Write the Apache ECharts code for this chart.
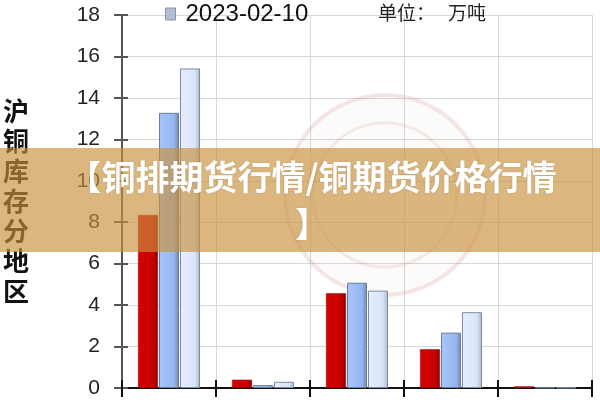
<!DOCTYPE html>
<html><head><meta charset="utf-8">
<script src="https://cdn.jsdelivr.net/npm/echarts@6/dist/echarts.min.js"></script>
<style>html,body{margin:0;padding:0;background:#fff}#c{width:600px;height:400px}</style>
</head><body><div id="c"></div>
<script>
// Data
const categories = ['上海', '广东', '江苏', '浙江', '其他'];
const seriesNames = ['系列1', '系列2', '2023-02-10'];
const valuesRed = [8.35, 0.4, 4.57, 1.87, 0.08];
const valuesBlue = [13.28, 0.14, 5.08, 2.67, 0.02];
const valuesLight = [15.42, 0.3, 4.7, 3.66, 0.02];
const yTicks = [0, 2, 4, 6, 8, 10, 12, 14, 16, 18];
const yAxisTitle = '沪铜库存分地区';
const unitText = ['单位：', '万吨'];
const bannerText = '【铜排期货行情/铜期货价格行情\n】';

const chart = echarts.init(document.getElementById('c'), null, {renderer: 'canvas'});
function grad(c1, c2, c3) {
  return new echarts.graphic.LinearGradient(0, 0, 1, 0, [
    {offset: 0, color: c1}, {offset: 0.75, color: c2}, {offset: 1, color: c3}
  ]);
}
const yMin = yTicks[0], yMax = yTicks[yTicks.length - 1], yInt = yTicks[1] - yTicks[0];
const option = {
  animation: false,
  textStyle: {fontFamily: 'Liberation Sans, Arial, sans-serif'},
  grid: {left: 118, right: 8, top: 15, bottom: 12, containLabel: false},
  legend: {
    data: [{name: seriesNames[2], itemStyle: {color: '#b4bdd2', borderColor: '#8c96ac', borderWidth: 1}}],
    left: 160, top: -3, icon: 'rect', itemWidth: 10, itemHeight: 12,
    textStyle: {fontSize: 24, color: '#111', fontFamily: 'Liberation Sans, Arial, sans-serif', padding: [0, 0, 0, 5]}
  },
  xAxis: [{
    type: 'category', data: categories, boundaryGap: true,
    axisLine: {show: true, lineStyle: {color: '#111', width: 2}},
    axisTick: {show: true, inside: false, length: 9, lineStyle: {color: '#111', width: 2}},
    axisLabel: {show: false},
    splitLine: {show: true, lineStyle: {color: '#d8d8d8', width: 1}}
  }, {
    type: 'category', data: categories, boundaryGap: true, position: 'bottom',
    axisLine: {show: false},
    axisTick: {show: true, inside: true, length: 8, lineStyle: {color: '#111', width: 2}},
    axisLabel: {show: false}, splitLine: {show: false}
  }],
  yAxis: [{
    type: 'value', min: yMin, max: yMax, interval: yInt,
    name: yAxisTitle.split('').join('\n'), nameLocation: 'middle', nameRotate: 0, nameGap: 93,
    nameTextStyle: {fontSize: 26, fontWeight: 'bold', color: '#111', lineHeight: 30, fontFamily: 'Noto Sans CJK SC'},
    axisLine: {show: true, lineStyle: {color: '#555', width: 2}},
    axisTick: {show: true, inside: false, length: 8, lineStyle: {color: '#555', width: 2}},
    axisLabel: {fontSize: 21, color: '#222', margin: 22, fontFamily: 'Liberation Sans, Arial, sans-serif'},
    splitLine: {show: true, lineStyle: {color: '#d8d8d8', width: 1}}
  }, {
    type: 'value', min: yMin, max: yMax, interval: yInt, position: 'left',
    axisLine: {show: false},
    axisTick: {show: true, inside: true, length: 6, lineStyle: {color: '#555', width: 2}},
    axisLabel: {show: false}, splitLine: {show: false}
  }],
  series: [
    {name: seriesNames[0], type: 'bar', data: valuesRed, barWidth: 20, barGap: '5%',
     itemStyle: {color: grad('#d40000', '#c80000', '#8a0000'), borderColor: '#9a1010', borderWidth: 0.6}},
    {name: seriesNames[1], type: 'bar', data: valuesBlue, barWidth: 20, barGap: '5%',
     itemStyle: {color: grad('#a9c6fa', '#94b6f2', '#6f86b0'), borderColor: '#6d7d98', borderWidth: 1}},
    {name: seriesNames[2], type: 'bar', data: valuesLight, barWidth: 20, barGap: '5%',
     itemStyle: {color: grad('#e6eefd', '#d8e4fa', '#a8b4c8'), borderColor: '#7e8aa0', borderWidth: 1}}
  ],
  graphic: [
    {type: 'circle', shape: {cx: 385, cy: 195, r: 100}, silent: true, z: 1,
     style: {fill: 'rgba(225,170,170,0.06)', stroke: 'rgba(200,120,120,0.18)', lineWidth: 4}},
    {type: 'circle', shape: {cx: 385, cy: 195, r: 72}, silent: true, z: 1,
     style: {fill: 'none', stroke: 'rgba(200,120,120,0.14)', lineWidth: 3}},
    {type: 'text', left: 378, top: 3, z: 10,
     style: {text: unitText[0], fontSize: 19, fill: '#222', fontFamily: 'Noto Sans CJK SC'}},
    {type: 'text', left: 448, top: 3, z: 10,
     style: {text: unitText[1], fontSize: 19, fill: '#222', fontFamily: 'Noto Sans CJK SC'}},
    {type: 'rect', shape: {x: 0, y: 148, width: 600, height: 104}, silent: true, z: 100,
     style: {fill: 'rgba(201,146,61,0.66)'}},
    {type: 'text', x: 312, y: 201, z: 101, silent: true,
     style: {text: bannerText, fontSize: 34, fontWeight: 'bold', fill: '#fff', lineHeight: 47,
       align: 'center', verticalAlign: 'middle', fontFamily: 'Noto Sans CJK SC',
       textShadowColor: 'rgba(0,0,0,0.15)', textShadowBlur: 2}}
  ]
};
chart.setOption(option);
</script></body></html>
